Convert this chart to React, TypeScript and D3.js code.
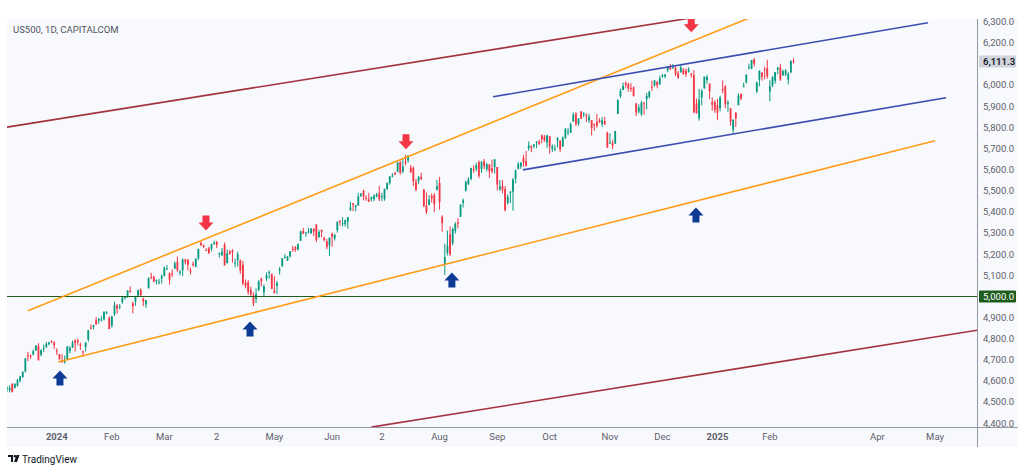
import React from "react";
import * as d3 from "d3";

const W = 1024;
const H = 472;

// [date, open, high, low, close]
const candles: [string, number, number, number, number][] = [
  ["2023-12-01", 4559, 4599, 4547, 4595],
  ["2023-12-04", 4565, 4575, 4547, 4570],
  ["2023-12-05", 4557, 4579, 4546, 4567],
  ["2023-12-06", 4586, 4590, 4546, 4549],
  ["2023-12-07", 4568, 4590, 4565, 4586],
  ["2023-12-08", 4577, 4610, 4574, 4604],
  ["2023-12-11", 4601, 4623, 4594, 4622],
  ["2023-12-12", 4619, 4644, 4615, 4644],
  ["2023-12-13", 4646, 4709, 4641, 4707],
  ["2023-12-14", 4722, 4738, 4694, 4720],
  ["2023-12-15", 4720, 4726, 4705, 4719],
  ["2023-12-18", 4726, 4749, 4721, 4741],
  ["2023-12-19", 4744, 4769, 4743, 4768],
  ["2023-12-20", 4765, 4779, 4698, 4698],
  ["2023-12-21", 4724, 4749, 4717, 4747],
  ["2023-12-22", 4754, 4773, 4737, 4755],
  ["2023-12-26", 4759, 4785, 4758, 4775],
  ["2023-12-27", 4774, 4786, 4769, 4782],
  ["2023-12-28", 4786, 4794, 4780, 4783],
  ["2023-12-29", 4782, 4789, 4751, 4770],
  ["2024-01-02", 4745, 4755, 4723, 4743],
  ["2024-01-03", 4726, 4729, 4700, 4705],
  ["2024-01-04", 4698, 4727, 4687, 4689],
  ["2024-01-05", 4690, 4721, 4682, 4697],
  ["2024-01-08", 4703, 4764, 4700, 4764],
  ["2024-01-09", 4742, 4765, 4731, 4757],
  ["2024-01-10", 4759, 4791, 4756, 4783],
  ["2024-01-11", 4792, 4798, 4740, 4780],
  ["2024-01-12", 4791, 4802, 4769, 4784],
  ["2024-01-16", 4773, 4782, 4747, 4766],
  ["2024-01-17", 4740, 4744, 4714, 4739],
  ["2024-01-18", 4760, 4785, 4740, 4781],
  ["2024-01-19", 4797, 4842, 4785, 4840],
  ["2024-01-22", 4853, 4868, 4844, 4850],
  ["2024-01-23", 4856, 4866, 4844, 4865],
  ["2024-01-24", 4888, 4903, 4865, 4869],
  ["2024-01-25", 4886, 4898, 4870, 4894],
  ["2024-01-26", 4888, 4907, 4882, 4891],
  ["2024-01-29", 4892, 4929, 4887, 4928],
  ["2024-01-30", 4925, 4931, 4916, 4925],
  ["2024-01-31", 4900, 4906, 4845, 4846],
  ["2024-02-01", 4862, 4906, 4853, 4906],
  ["2024-02-02", 4917, 4975, 4907, 4959],
  ["2024-02-05", 4957, 4964, 4919, 4943],
  ["2024-02-06", 4951, 4964, 4939, 4954],
  ["2024-02-07", 4974, 5000, 4965, 4995],
  ["2024-02-08", 4995, 5001, 4985, 4998],
  ["2024-02-09", 5004, 5030, 4993, 5027],
  ["2024-02-12", 5027, 5048, 5017, 5022],
  ["2024-02-13", 4968, 4976, 4920, 4953],
  ["2024-02-14", 4976, 5003, 4956, 5001],
  ["2024-02-15", 5004, 5032, 4999, 5030],
  ["2024-02-16", 5032, 5039, 4999, 5006],
  ["2024-02-20", 4990, 4994, 4954, 4976],
  ["2024-02-21", 4963, 4984, 4946, 4982],
  ["2024-02-22", 5039, 5090, 5038, 5087],
  ["2024-02-23", 5093, 5112, 5082, 5089],
  ["2024-02-26", 5093, 5098, 5068, 5070],
  ["2024-02-27", 5074, 5081, 5057, 5078],
  ["2024-02-28", 5068, 5083, 5057, 5070],
  ["2024-02-29", 5085, 5105, 5061, 5096],
  ["2024-03-01", 5098, 5141, 5094, 5137],
  ["2024-03-04", 5131, 5149, 5127, 5131],
  ["2024-03-05", 5110, 5114, 5056, 5079],
  ["2024-03-06", 5108, 5128, 5092, 5105],
  ["2024-03-07", 5132, 5165, 5130, 5157],
  ["2024-03-08", 5164, 5189, 5117, 5124],
  ["2024-03-11", 5112, 5125, 5100, 5118],
  ["2024-03-12", 5124, 5180, 5096, 5175],
  ["2024-03-13", 5174, 5179, 5152, 5165],
  ["2024-03-14", 5175, 5176, 5123, 5150],
  ["2024-03-15", 5124, 5136, 5104, 5117],
  ["2024-03-18", 5155, 5166, 5141, 5149],
  ["2024-03-19", 5140, 5180, 5139, 5179],
  ["2024-03-20", 5181, 5226, 5172, 5225],
  ["2024-03-21", 5254, 5261, 5240, 5242],
  ["2024-03-22", 5242, 5246, 5229, 5234],
  ["2024-03-25", 5220, 5229, 5215, 5218],
  ["2024-03-26", 5228, 5236, 5203, 5204],
  ["2024-03-27", 5226, 5249, 5214, 5248],
  ["2024-03-28", 5248, 5264, 5245, 5254],
  ["2024-04-01", 5258, 5263, 5229, 5244],
  ["2024-04-02", 5204, 5208, 5185, 5206],
  ["2024-04-03", 5195, 5229, 5192, 5211],
  ["2024-04-04", 5244, 5256, 5147, 5147],
  ["2024-04-05", 5158, 5222, 5157, 5204],
  ["2024-04-08", 5212, 5220, 5198, 5202],
  ["2024-04-09", 5217, 5224, 5160, 5210],
  ["2024-04-10", 5158, 5179, 5138, 5161],
  ["2024-04-11", 5172, 5212, 5142, 5199],
  ["2024-04-12", 5171, 5175, 5107, 5123],
  ["2024-04-15", 5150, 5168, 5052, 5062],
  ["2024-04-16", 5065, 5080, 5039, 5051],
  ["2024-04-17", 5068, 5077, 5008, 5022],
  ["2024-04-18", 5032, 5046, 4998, 5011],
  ["2024-04-19", 5006, 5020, 4954, 4967],
  ["2024-04-22", 4988, 5038, 4969, 5011],
  ["2024-04-23", 5029, 5077, 5028, 5071],
  ["2024-04-24", 5084, 5089, 5048, 5072],
  ["2024-04-25", 5020, 5057, 5002, 5048],
  ["2024-04-26", 5084, 5114, 5073, 5100],
  ["2024-04-29", 5114, 5124, 5085, 5116],
  ["2024-04-30", 5104, 5110, 5035, 5036],
  ["2024-05-01", 5029, 5096, 5013, 5018],
  ["2024-05-02", 5050, 5073, 5011, 5064],
  ["2024-05-03", 5123, 5140, 5104, 5128],
  ["2024-05-06", 5142, 5181, 5142, 5181],
  ["2024-05-07", 5187, 5200, 5180, 5188],
  ["2024-05-08", 5169, 5192, 5168, 5188],
  ["2024-05-09", 5190, 5215, 5184, 5214],
  ["2024-05-10", 5225, 5240, 5211, 5223],
  ["2024-05-13", 5234, 5238, 5211, 5221],
  ["2024-05-14", 5222, 5250, 5218, 5247],
  ["2024-05-15", 5264, 5311, 5263, 5308],
  ["2024-05-16", 5310, 5325, 5296, 5297],
  ["2024-05-17", 5303, 5305, 5283, 5303],
  ["2024-05-20", 5305, 5325, 5299, 5308],
  ["2024-05-21", 5299, 5324, 5297, 5321],
  ["2024-05-22", 5319, 5324, 5286, 5307],
  ["2024-05-23", 5340, 5342, 5257, 5268],
  ["2024-05-24", 5281, 5315, 5278, 5305],
  ["2024-05-28", 5315, 5316, 5280, 5306],
  ["2024-05-29", 5278, 5282, 5260, 5267],
  ["2024-05-30", 5260, 5272, 5223, 5235],
  ["2024-05-31", 5243, 5280, 5192, 5278],
  ["2024-06-03", 5297, 5302, 5235, 5283],
  ["2024-06-04", 5275, 5297, 5265, 5291],
  ["2024-06-05", 5314, 5355, 5302, 5354],
  ["2024-06-06", 5357, 5362, 5335, 5353],
  ["2024-06-07", 5344, 5375, 5331, 5347],
  ["2024-06-10", 5342, 5364, 5331, 5361],
  ["2024-06-11", 5354, 5376, 5321, 5375],
  ["2024-06-12", 5410, 5447, 5404, 5421],
  ["2024-06-13", 5441, 5442, 5404, 5434],
  ["2024-06-14", 5424, 5433, 5403, 5432],
  ["2024-06-17", 5432, 5489, 5428, 5473],
  ["2024-06-18", 5477, 5488, 5471, 5487],
  ["2024-06-20", 5499, 5505, 5455, 5473],
  ["2024-06-21", 5467, 5478, 5452, 5465],
  ["2024-06-24", 5459, 5490, 5447, 5448],
  ["2024-06-25", 5461, 5473, 5451, 5469],
  ["2024-06-26", 5460, 5483, 5452, 5478],
  ["2024-06-27", 5473, 5490, 5469, 5483],
  ["2024-06-28", 5488, 5523, 5452, 5460],
  ["2024-07-01", 5471, 5490, 5451, 5475],
  ["2024-07-02", 5461, 5510, 5453, 5509],
  ["2024-07-03", 5507, 5539, 5506, 5537],
  ["2024-07-05", 5537, 5570, 5529, 5567],
  ["2024-07-08", 5572, 5583, 5563, 5573],
  ["2024-07-09", 5584, 5590, 5575, 5577],
  ["2024-07-10", 5591, 5635, 5587, 5634],
  ["2024-07-11", 5635, 5642, 5576, 5585],
  ["2024-07-12", 5591, 5655, 5583, 5615],
  ["2024-07-15", 5638, 5670, 5620, 5631],
  ["2024-07-16", 5644, 5669, 5632, 5667],
  ["2024-07-17", 5610, 5622, 5584, 5588],
  ["2024-07-18", 5608, 5615, 5522, 5545],
  ["2024-07-19", 5543, 5557, 5498, 5505],
  ["2024-07-22", 5545, 5570, 5531, 5564],
  ["2024-07-23", 5566, 5586, 5551, 5556],
  ["2024-07-24", 5505, 5509, 5423, 5427],
  ["2024-07-25", 5429, 5492, 5390, 5399],
  ["2024-07-26", 5433, 5480, 5431, 5459],
  ["2024-07-29", 5476, 5487, 5444, 5464],
  ["2024-07-30", 5479, 5489, 5399, 5436],
  ["2024-07-31", 5506, 5552, 5500, 5522],
  ["2024-08-01", 5537, 5566, 5410, 5447],
  ["2024-08-02", 5377, 5384, 5306, 5347],
  ["2024-08-05", 5152, 5250, 5102, 5186],
  ["2024-08-06", 5207, 5312, 5194, 5240],
  ["2024-08-07", 5293, 5331, 5191, 5200],
  ["2024-08-08", 5253, 5326, 5242, 5319],
  ["2024-08-09", 5310, 5351, 5298, 5344],
  ["2024-08-12", 5351, 5371, 5322, 5344],
  ["2024-08-13", 5376, 5437, 5376, 5434],
  ["2024-08-14", 5443, 5463, 5421, 5455],
  ["2024-08-15", 5501, 5547, 5497, 5543],
  ["2024-08-16", 5531, 5564, 5528, 5554],
  ["2024-08-19", 5557, 5609, 5550, 5608],
  ["2024-08-20", 5602, 5621, 5585, 5597],
  ["2024-08-21", 5604, 5633, 5591, 5621],
  ["2024-08-22", 5637, 5643, 5560, 5571],
  ["2024-08-23", 5603, 5641, 5585, 5635],
  ["2024-08-26", 5640, 5651, 5603, 5617],
  ["2024-08-27", 5603, 5632, 5592, 5626],
  ["2024-08-28", 5624, 5627, 5561, 5592],
  ["2024-08-29", 5607, 5647, 5583, 5592],
  ["2024-08-30", 5612, 5651, 5582, 5648],
  ["2024-09-03", 5612, 5613, 5502, 5529],
  ["2024-09-04", 5507, 5552, 5499, 5520],
  ["2024-09-05", 5524, 5551, 5488, 5503],
  ["2024-09-06", 5508, 5522, 5402, 5408],
  ["2024-09-09", 5443, 5484, 5434, 5471],
  ["2024-09-10", 5490, 5498, 5441, 5496],
  ["2024-09-11", 5496, 5560, 5406, 5554],
  ["2024-09-12", 5558, 5601, 5536, 5596],
  ["2024-09-13", 5604, 5636, 5601, 5626],
  ["2024-09-16", 5615, 5636, 5604, 5633],
  ["2024-09-17", 5655, 5670, 5614, 5635],
  ["2024-09-18", 5641, 5689, 5615, 5618],
  ["2024-09-19", 5702, 5734, 5690, 5714],
  ["2024-09-20", 5709, 5716, 5683, 5703],
  ["2024-09-23", 5711, 5720, 5701, 5719],
  ["2024-09-24", 5728, 5735, 5702, 5733],
  ["2024-09-25", 5733, 5741, 5716, 5722],
  ["2024-09-26", 5762, 5767, 5725, 5745],
  ["2024-09-27", 5756, 5764, 5732, 5738],
  ["2024-09-30", 5727, 5765, 5703, 5762],
  ["2024-10-01", 5758, 5758, 5675, 5709],
  ["2024-10-02", 5698, 5720, 5684, 5710],
  ["2024-10-03", 5698, 5718, 5688, 5700],
  ["2024-10-04", 5737, 5752, 5704, 5751],
  ["2024-10-07", 5737, 5739, 5684, 5696],
  ["2024-10-08", 5709, 5757, 5709, 5751],
  ["2024-10-09", 5751, 5797, 5745, 5792],
  ["2024-10-10", 5778, 5796, 5763, 5780],
  ["2024-10-11", 5775, 5822, 5773, 5815],
  ["2024-10-14", 5830, 5871, 5825, 5860],
  ["2024-10-15", 5866, 5871, 5806, 5815],
  ["2024-10-16", 5816, 5843, 5807, 5842],
  ["2024-10-17", 5875, 5878, 5840, 5841],
  ["2024-10-18", 5860, 5872, 5848, 5865],
  ["2024-10-21", 5858, 5866, 5825, 5854],
  ["2024-10-22", 5833, 5864, 5821, 5851],
  ["2024-10-23", 5835, 5835, 5762, 5797],
  ["2024-10-24", 5817, 5817, 5784, 5810],
  ["2024-10-25", 5826, 5863, 5799, 5808],
  ["2024-10-28", 5833, 5843, 5822, 5824],
  ["2024-10-29", 5816, 5848, 5802, 5833],
  ["2024-10-30", 5830, 5850, 5812, 5814],
  ["2024-10-31", 5775, 5780, 5703, 5705],
  ["2024-11-01", 5723, 5772, 5723, 5729],
  ["2024-11-04", 5725, 5741, 5697, 5713],
  ["2024-11-05", 5723, 5783, 5722, 5783],
  ["2024-11-06", 5864, 5933, 5864, 5929],
  ["2024-11-07", 5947, 5983, 5940, 5973],
  ["2024-11-08", 5977, 6012, 5976, 5996],
  ["2024-11-11", 6009, 6018, 5985, 6001],
  ["2024-11-12", 6004, 6012, 5969, 5984],
  ["2024-11-13", 5986, 6009, 5968, 5985],
  ["2024-11-14", 5989, 5993, 5946, 5949],
  ["2024-11-15", 5913, 5916, 5854, 5871],
  ["2024-11-18", 5875, 5909, 5866, 5894],
  ["2024-11-19", 5863, 5925, 5854, 5917],
  ["2024-11-20", 5918, 5919, 5860, 5917],
  ["2024-11-21", 5934, 5963, 5885, 5949],
  ["2024-11-22", 5944, 5973, 5937, 5969],
  ["2024-11-25", 5992, 6021, 5973, 5987],
  ["2024-11-26", 6000, 6025, 5992, 6022],
  ["2024-11-27", 6015, 6020, 5985, 5999],
  ["2024-11-29", 6003, 6044, 6003, 6032],
  ["2024-12-02", 6040, 6053, 6035, 6047],
  ["2024-12-03", 6042, 6053, 6033, 6050],
  ["2024-12-04", 6070, 6089, 6061, 6086],
  ["2024-12-05", 6089, 6100, 6072, 6075],
  ["2024-12-06", 6082, 6100, 6076, 6090],
  ["2024-12-09", 6083, 6088, 6042, 6053],
  ["2024-12-10", 6057, 6066, 6030, 6035],
  ["2024-12-11", 6060, 6093, 6060, 6084],
  ["2024-12-12", 6074, 6080, 6051, 6051],
  ["2024-12-13", 6068, 6079, 6039, 6051],
  ["2024-12-16", 6064, 6085, 6059, 6074],
  ["2024-12-17", 6053, 6058, 6036, 6051],
  ["2024-12-18", 6047, 6071, 5867, 5872],
  ["2024-12-19", 5913, 5936, 5866, 5867],
  ["2024-12-20", 5843, 5982, 5832, 5931],
  ["2024-12-23", 5941, 5979, 5904, 5974],
  ["2024-12-24", 5985, 6040, 5983, 6040],
  ["2024-12-26", 6024, 6049, 6007, 6038],
  ["2024-12-27", 6007, 6007, 5933, 5971],
  ["2024-12-30", 5920, 5941, 5879, 5907],
  ["2024-12-31", 5920, 5929, 5869, 5882],
  ["2025-01-02", 5904, 5935, 5834, 5869],
  ["2025-01-03", 5891, 5950, 5876, 5942],
  ["2025-01-06", 5982, 6022, 5961, 5975],
  ["2025-01-07", 5994, 6000, 5890, 5909],
  ["2025-01-08", 5911, 5928, 5874, 5918],
  ["2025-01-10", 5890, 5891, 5808, 5827],
  ["2025-01-13", 5789, 5838, 5773, 5836],
  ["2025-01-14", 5870, 5871, 5802, 5843],
  ["2025-01-15", 5905, 5961, 5905, 5950],
  ["2025-01-16", 5958, 5961, 5929, 5937],
  ["2025-01-17", 5995, 6012, 5989, 5997],
  ["2025-01-21", 6015, 6051, 6007, 6049],
  ["2025-01-22", 6082, 6101, 6074, 6086],
  ["2025-01-23", 6077, 6119, 6075, 6119],
  ["2025-01-24", 6122, 6128, 6088, 6101],
  ["2025-01-27", 5970, 6017, 5962, 6012],
  ["2025-01-28", 6026, 6070, 5994, 6068],
  ["2025-01-29", 6058, 6062, 6021, 6039],
  ["2025-01-30", 6074, 6087, 6028, 6071],
  ["2025-01-31", 6080, 6120, 6031, 6041],
  ["2025-02-03", 5970, 6023, 5923, 5995],
  ["2025-02-04", 5998, 6042, 5990, 6038],
  ["2025-02-05", 6021, 6062, 6007, 6061],
  ["2025-02-06", 6073, 6084, 6051, 6084],
  ["2025-02-07", 6083, 6101, 6020, 6026],
  ["2025-02-10", 6046, 6073, 6045, 6066],
  ["2025-02-11", 6050, 6076, 6042, 6069],
  ["2025-02-12", 6026, 6063, 6003, 6052],
  ["2025-02-13", 6061, 6116, 6056, 6115],
  ["2025-02-14", 6115, 6127, 6102, 6111.3],
];

const priceTicks = [4400, 4500, 4600, 4700, 4800, 4900, 5000, 5100, 5200, 5300, 5400, 5500, 5600, 5700, 5800, 5900, 6000, 6100, 6200, 6300];
const hiddenPriceTicks = [6100];
const timeTickDates = ["2024-01-02", "2024-02-01", "2024-03-01", "2024-04-01", "2024-05-01", "2024-06-03", "2024-07-01", "2024-08-01", "2024-09-03", "2024-10-01", "2024-11-01", "2024-12-02", "2025-01-02", "2025-02-03", "2025-04-01", "2025-05-01"];
const timeTickLabels = ["2024", "Feb", "Mar", "2", "May", "Jun", "2", "Aug", "Sep", "Oct", "Nov", "Dec", "2025", "Feb", "Apr", "May"];
const boldTimeLabels = ["2024", "2025"];

// trend lines: [bar index from, price from, bar index to, price to]  (index 0 = 2024-01-02)
const maroonLines: [number, number, number, number][] = [
  [-19, 5801, 243, 6320],
  [120, 4382, 352, 4842],
];
const orangeLines: [number, number, number, number][] = [
  [-11, 4932, 265, 6322],
  [0.5, 4690, 335, 5737],
];
const blueLines: [number, number, number, number][] = [
  [166.4, 5945, 332.3, 6295],
  [177.8, 5599, 339.2, 5940],
];
const levelLine = 5000;
const lastPrice = 6111.3;

// arrows: [bar index, price]
const downArrows: [number, number][] = [
  [56.9, 5348],
  [133.2, 5732],
  [242, 6286],
];
const upArrows: [number, number][] = [
  [1.2, 4614],
  [73.7, 4846],
  [150.7, 5078],
  [243.8, 5386],
];

const FONT = "Roboto, 'Noto Sans', sans-serif";
const UP = "#089981";
const DOWN = "#f23645";

const PLOT_L = 7;
const PLOT_R = 977;
const PLOT_T = 19;
const PLOT_B = 427;
const PANEL_R = 1018;
const PANEL_B = 447;

const firstIdx = candles.findIndex((c) => c[0] === "2024-01-02");

function dateIndex(ds: string): number {
  const i = candles.findIndex((c) => c[0] === ds);
  if (i >= 0) return i - firstIdx;
  // count weekdays after the last bar
  const last = new Date(candles[candles.length - 1][0] + "T00:00:00Z");
  const target = new Date(ds + "T00:00:00Z");
  let n = 0;
  const d = new Date(last);
  while (d < target) {
    d.setUTCDate(d.getUTCDate() + 1);
    const wd = d.getUTCDay();
    if (wd !== 0 && wd !== 6) n++;
  }
  return candles.length - 1 - firstIdx + n;
}

function arrowPath(cx: number, cy: number, up: boolean): string {
  const s = up ? -1 : 1;
  const p = [
    [cx - 3.5, cy - 7.5 * s],
    [cx + 3.5, cy - 7.5 * s],
    [cx + 3.5, cy - 0.5 * s],
    [cx + 7.5, cy - 0.5 * s],
    [cx, cy + 7.5 * s],
    [cx - 7.5, cy - 0.5 * s],
    [cx - 3.5, cy - 0.5 * s],
  ];
  return "M" + p.map((q) => q.join(",")).join("L") + "Z";
}

export default function App() {
  const x = d3.scaleLinear().domain([-19, 351]).range([PLOT_L, PLOT_R]);
  const y = d3.scaleLinear().domain([4400, 6300]).range([423.3, 21.7]);
  const fmt = d3.format(",.1f");
  const bodyW = 1.8;

  const line = (l: [number, number, number, number], color: string, key: string, w = 1.5) => (
    <line key={key} x1={x(l[0])} y1={y(l[1])} x2={x(l[2])} y2={y(l[3])} stroke={color} strokeWidth={w} />
  );

  return (
    <svg width={W} height={H} style={{ position: "absolute", left: 0, top: 0, background: "#fff" }} fontFamily={FONT}>
      <defs>
        <clipPath id="plot">
          <rect x={PLOT_L} y={PLOT_T} width={PLOT_R - PLOT_L} height={PLOT_B - PLOT_T} />
        </clipPath>
      </defs>
      <rect x={0} y={0} width={W} height={H} fill="#ffffff" />
      <rect x={PLOT_L} y={PLOT_T} width={PANEL_R - PLOT_L} height={PANEL_B - PLOT_T} fill="#f8f9fc" />

      <g clipPath="url(#plot)">
        {candles.map((c, i) => {
          const idx = i - firstIdx;
          const cx = x(idx);
          const [, o, h, l, cl] = c;
          const col = cl >= o ? UP : DOWN;
          const top = y(Math.max(o, cl));
          const bot = y(Math.min(o, cl));
          return (
            <g key={c[0]}>
              <line x1={cx} x2={cx} y1={y(h)} y2={y(l)} stroke={col} strokeWidth={1} />
              <rect x={cx - bodyW / 2} y={top} width={bodyW} height={Math.max(1, bot - top)} fill={col} />
            </g>
          );
        })}
        <line x1={PLOT_L} x2={PLOT_R} y1={y(levelLine)} y2={y(levelLine)} stroke="#1e5c1e" strokeWidth={1.2} />
        {maroonLines.map((l, i) => line(l, "#a3323f", "m" + i, 1.6))}
        {orangeLines.map((l, i) => line(l, "#ff9d1a", "o" + i, 1.6))}
        {blueLines.map((l, i) => line(l, "#3b4eb0", "b" + i, 1.6))}
        {downArrows.map((a, i) => (
          <path key={"d" + i} d={arrowPath(x(a[0]), y(a[1]), false)} fill="#f23645" />
        ))}
        {upArrows.map((a, i) => (
          <path key={"u" + i} d={arrowPath(x(a[0]), y(a[1]), true)} fill="#0d3a94" />
        ))}
      </g>

      {/* axes borders */}
      <line x1={PLOT_R + 0.5} x2={PLOT_R + 0.5} y1={PLOT_T} y2={PANEL_B} stroke="#9598a1" strokeWidth={1} />
      <line x1={PLOT_L} x2={PANEL_R} y1={PLOT_B + 0.5} y2={PLOT_B + 0.5} stroke="#9598a1" strokeWidth={1} />

      {/* price labels */}
      {priceTicks
        .filter((p) => !hiddenPriceTicks.includes(p))
        .map((p) => (
          <text key={p} x={983} y={y(p)} dy="0.35em" fontSize={9.5} fill="#5d606b">
            {fmt(p)}
          </text>
        ))}
      <rect x={979} y={y(lastPrice) - 6} width={37} height={12} fill="#d1d4dc" rx={1} />
      <text x={983} y={y(lastPrice)} dy="0.35em" fontSize={9.5} fill="#131722" fontWeight={600}>
        {fmt(lastPrice)}
      </text>
      <rect x={979} y={y(levelLine) - 6} width={37} height={12} fill="#1e5c1e" rx={1} />
      <text x={983} y={y(levelLine)} dy="0.35em" fontSize={9.5} fill="#ffffff">
        {fmt(levelLine)}
      </text>

      {/* time labels */}
      {timeTickDates.map((ds, i) => (
        <text
          key={ds}
          x={x(dateIndex(ds))}
          y={437}
          dy="0.35em"
          textAnchor="middle"
          fontSize={9.5}
          fill="#5d606b"
          fontWeight={boldTimeLabels.includes(timeTickLabels[i]) ? 700 : 400}
        >
          {timeTickLabels[i]}
        </text>
      ))}

      {/* title */}
      <text x={13} y={30} dy="0.35em" fontSize={9.5} fill="#50535e">
        US500, 1D, CAPITALCOM
      </text>

      {/* TradingView logo */}
      <g transform="translate(8,455)" fill="#131722">
        <path d="M0,0 H5 V7 H3 V2 H0 Z" />
        <circle cx={7} cy={1.3} r={1.3} />
        <path d="M8.5,0 H11.5 L9,7 H6 Z" />
      </g>
      <text x={22} y={459} dy="0.35em" fontSize={10} fill="#131722">
        TradingView
      </text>
    </svg>
  );
}
